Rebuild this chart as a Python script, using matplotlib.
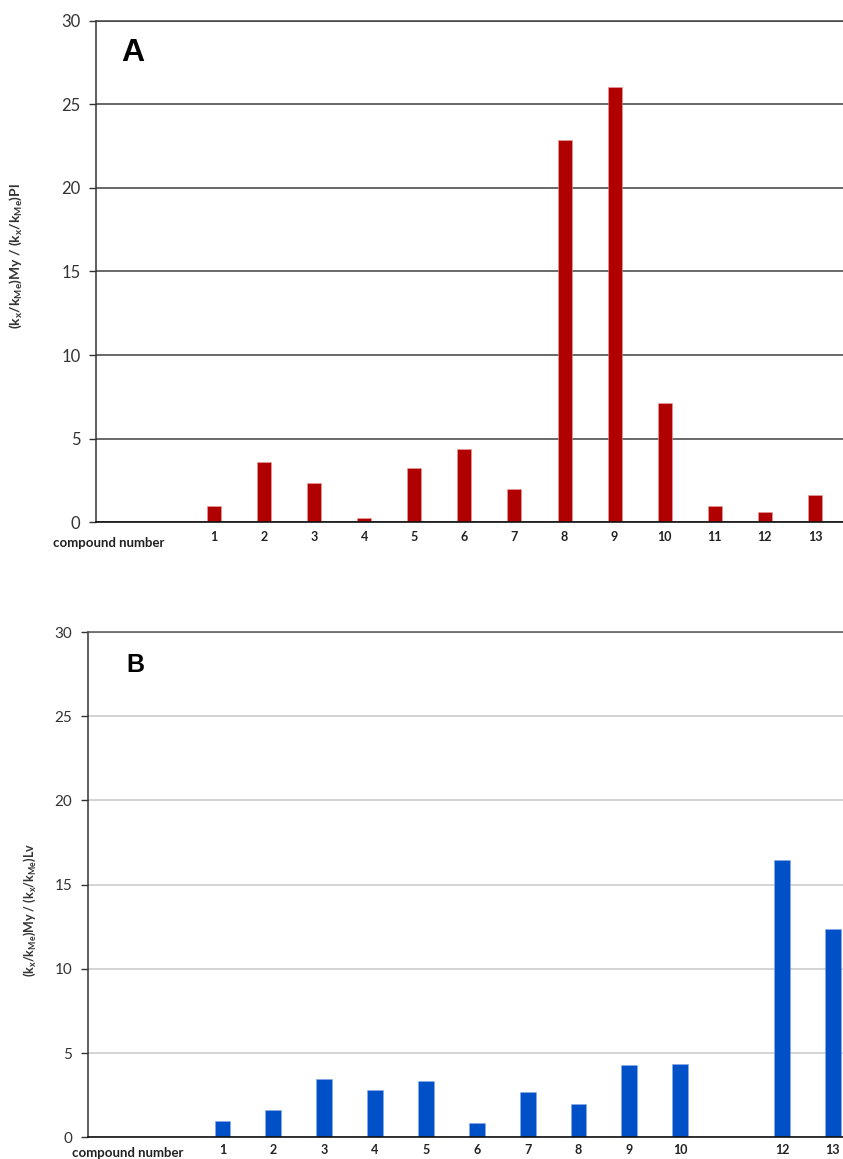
import numpy as np
import matplotlib
matplotlib.use('Agg')
import matplotlib.pyplot as plt

plt.rcParams['font.family'] = ['Lato', 'DejaVu Sans']
plt.rcParams['mathtext.fontset'] = 'custom'
plt.rcParams['mathtext.rm'] = 'Lato:bold'

# panel A : My / Pl
compounds_a = [1, 2, 3, 4, 5, 6, 7, 8, 9, 10, 11, 12, 13]
ratio_a = [0.96, 3.6, 2.32, 0.24, 3.23, 4.35, 1.98, 22.84, 26.05, 7.14, 0.94, 0.6, 1.6]

# panel B : My / Lv (no value for compound 11)
compounds_b = [1, 2, 3, 4, 5, 6, 7, 8, 9, 10, 12, 13]
ratio_b = [0.99, 1.61, 3.49, 2.78, 3.33, 0.83, 2.68, 1.98, 4.3, 4.38, 16.45, 12.37]

yticks = [0, 5, 10, 15, 20, 25, 30]

W, H = 843, 1159
fig = plt.figure(figsize=(W/100, H/100), dpi=100)


def px_axes(left, top, right, bottom):
    return fig.add_axes([left/W, 1 - bottom/H, (right-left)/W, (bottom-top)/H])


def style(ax, xs, grid_col, top_col, xlim, pad_x, ysize):
    ax.set_ylim(0, 30)
    ax.set_xlim(*xlim)
    ax.set_yticks(yticks)
    ax.set_xticks(xs)
    ax.set_xticklabels([str(c) for c in xs], fontweight='bold', fontsize=9, color='#222222')
    ax.tick_params(axis='x', length=0, pad=pad_x)
    ax.tick_params(axis='y', length=5, width=1, color='#333333', labelsize=ysize,
                   labelcolor='#333333', pad=6)
    ax.yaxis.grid(True, color=grid_col, linewidth=1.1)
    ax.set_axisbelow(True)
    ax.spines['right'].set_visible(False)
    ax.spines['top'].set_color(top_col)
    ax.spines['top'].set_linewidth(1.1)
    ax.spines['left'].set_color('#333333')
    ax.spines['left'].set_linewidth(1.1)
    ax.spines['bottom'].set_color('#111111')
    ax.spines['bottom'].set_linewidth(1.2)


# ---- A ----
axA = px_axes(95.7, 20.7, 843, 522.2)
axA.bar(compounds_a, ratio_a, width=0.28, color='#B00000', edgecolor='#E8A0A0', linewidth=0.4)
style(axA, compounds_a, '#404040', '#404040', (-1.36, 13.56), 6, 12)
axA.text(0.05, 0.935, 'A', transform=axA.transAxes, fontsize=23, fontweight='bold',
         family='Liberation Sans', ha='center', va='center')
fig.text(109/W, 1 - 543/H, 'compound number', fontsize=9.5, fontweight='bold',
         color='#222222', ha='center', va='center')
fig.text(16/W, 1 - 256/H,
         r'(k$_\mathregular{x}$/k$_\mathregular{Me}$)My / (k$_\mathregular{x}$/k$_\mathregular{Me}$)Pl',
         rotation=90, fontsize=10, fontweight='bold', color='#333333', ha='center', va='center')

# ---- B ----
axB = px_axes(87.7, 632, 843, 1137.3)
axB.bar(compounds_b, ratio_b, width=0.31, color='#0050C8', edgecolor='#8AA8E8', linewidth=0.4)
style(axB, compounds_b, '#C8C8C8', '#555555', (-1.65, 13.2), 5, 11)
axB.text(0.063, 0.935, 'B', transform=axB.transAxes, fontsize=18, fontweight='bold',
         family='Liberation Sans', ha='center', va='center')
fig.text(127.5/W, 1 - 1153/H, 'compound number', fontsize=9.5, fontweight='bold',
         color='#222222', ha='center', va='center')
fig.text(30/W, 1 - 910/H,
         r'(k$_\mathregular{x}$/k$_\mathregular{Me}$)My / (k$_\mathregular{x}$/k$_\mathregular{Me}$)Lv',
         rotation=90, fontsize=9, fontweight='bold', color='#333333', ha='center', va='center')

plt.savefig('out.png', dpi=100)
